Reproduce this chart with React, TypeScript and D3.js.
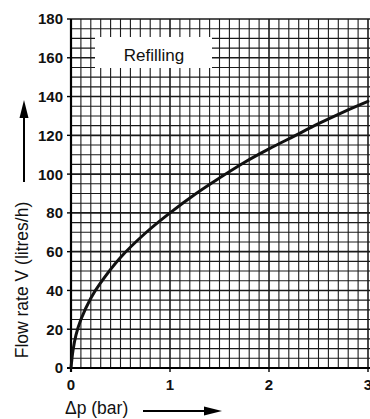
import React, { useEffect, useRef } from "react";
import * as d3 from "d3";

// pressure difference (bar) and flow rate (litres/h)
const dp = [0, 0.02, 0.05, 0.1, 0.2, 0.3, 0.5, 0.75, 1.0, 1.25, 1.5, 1.75, 2.0, 2.25, 2.5, 2.75, 3.0];
const flow = [0, 9, 17, 25, 36, 44, 57, 69.5, 80, 89.5, 98, 106, 113, 119.5, 126, 132, 137.5];

const xTicks = [0, 1, 2, 3];
const yTicks = [0, 20, 40, 60, 80, 100, 120, 140, 160, 180];

const App = () => {
  const svgRef = useRef<SVGSVGElement>(null);

  useEffect(() => {
    const width = 370;
    const height = 419;
    const svg = d3.select(svgRef.current).attr("width", width).attr("height", height);
    svg.selectAll("*").remove();

    const x = d3.scaleLinear().domain([0, 3]).range([71, 368]);
    const y = d3.scaleLinear().domain([0, 180]).range([368, 19]);

    const font = "'Liberation Sans', Arial, sans-serif";
    const grid = svg.append("g");

    // minor grid: 0.1 bar / 5 l/h
    grid
      .selectAll("line.vx")
      .data(d3.range(1, 31).map((i) => i / 10))
      .join("line")
      .attr("x1", (d) => x(d))
      .attr("x2", (d) => x(d))
      .attr("y1", y(0))
      .attr("y2", y(180))
      .attr("stroke", "#1a1a1a")
      .attr("stroke-width", (d) => (Math.abs(d - Math.round(d)) < 1e-6 ? 1.6 : 1.1));

    grid
      .selectAll("line.hy")
      .data(d3.range(1, 37).map((i) => i * 5))
      .join("line")
      .attr("x1", x(0))
      .attr("x2", width)
      .attr("y1", (d) => y(d))
      .attr("y2", (d) => y(d))
      .attr("stroke", "#1a1a1a")
      .attr("stroke-width", (d) => (d % 20 === 0 ? 1.6 : 1.1));

    // axes
    svg.append("line").attr("x1", x(0)).attr("x2", x(0)).attr("y1", y(0) + 4).attr("y2", y(180))
      .attr("stroke", "#000").attr("stroke-width", 2.2);
    svg.append("line").attr("x1", x(0) - 4).attr("x2", width).attr("y1", y(0)).attr("y2", y(0))
      .attr("stroke", "#000").attr("stroke-width", 2.2);

    // label box
    svg.append("rect").attr("x", 95).attr("y", 37).attr("width", 117).attr("height", 31).attr("fill", "#fff");
    svg.append("text").attr("x", 154).attr("y", 61).attr("text-anchor", "middle")
      .attr("font-family", font).attr("font-size", 17).attr("fill", "#111").text("Refilling");

    // y ticks
    svg.selectAll("line.ty").data(yTicks).join("line")
      .attr("x1", x(0) - 4).attr("x2", x(0)).attr("y1", (d) => y(d)).attr("y2", (d) => y(d))
      .attr("stroke", "#000").attr("stroke-width", 1.4);
    svg.selectAll("text.ty").data(yTicks).join("text")
      .attr("x", 63).attr("y", (d) => y(d)).attr("dy", "0.36em").attr("text-anchor", "end")
      .attr("font-family", font).attr("font-weight", "bold").attr("font-size", 15).attr("fill", "#111")
      .text((d) => d);

    // x ticks
    svg.selectAll("line.tx").data(xTicks).join("line")
      .attr("x1", (d) => x(d)).attr("x2", (d) => x(d)).attr("y1", y(0)).attr("y2", y(0) + 4)
      .attr("stroke", "#000").attr("stroke-width", 1.4);
    svg.selectAll("text.tx").data(xTicks).join("text")
      .attr("x", (d) => x(d)).attr("y", 390).attr("text-anchor", "middle")
      .attr("font-family", font).attr("font-weight", "bold").attr("font-size", 15).attr("fill", "#111")
      .text((d) => d);

    // curve
    const line = d3.line<number>().x((d) => x(d)).y((_, i) => y(flow[i])).curve(d3.curveCatmullRom);
    svg.append("path").attr("d", line(dp)).attr("fill", "none").attr("stroke", "#111")
      .attr("stroke-width", 3).attr("stroke-linecap", "round");

    // axis titles
    svg.append("text").attr("transform", "translate(28,280) rotate(-90)").attr("text-anchor", "middle")
      .attr("font-family", font).attr("font-size", 17.5).attr("fill", "#111").text("Flow rate V (litres/h)");
    svg.append("text").attr("x", 65).attr("y", 414)
      .attr("font-family", font).attr("font-size", 17.5).attr("fill", "#111").text("Δp (bar)");

    // arrows
    svg.append("line").attr("x1", 24).attr("x2", 24).attr("y1", 182).attr("y2", 112)
      .attr("stroke", "#000").attr("stroke-width", 2);
    svg.append("path").attr("d", "M24,100 L19.5,118 L28.5,118 Z").attr("fill", "#000");
    svg.append("line").attr("x1", 143).attr("x2", 210).attr("y1", 411).attr("y2", 411)
      .attr("stroke", "#000").attr("stroke-width", 2);
    svg.append("path").attr("d", "M222,411 L204,406.5 L204,415.5 Z").attr("fill", "#000");
  }, []);

  return (
    <div style={{ position: "absolute", left: 0, top: 0 }}>
      <svg ref={svgRef} style={{ display: "block", background: "#fff" }}></svg>
    </div>
  );
};

export default App;
